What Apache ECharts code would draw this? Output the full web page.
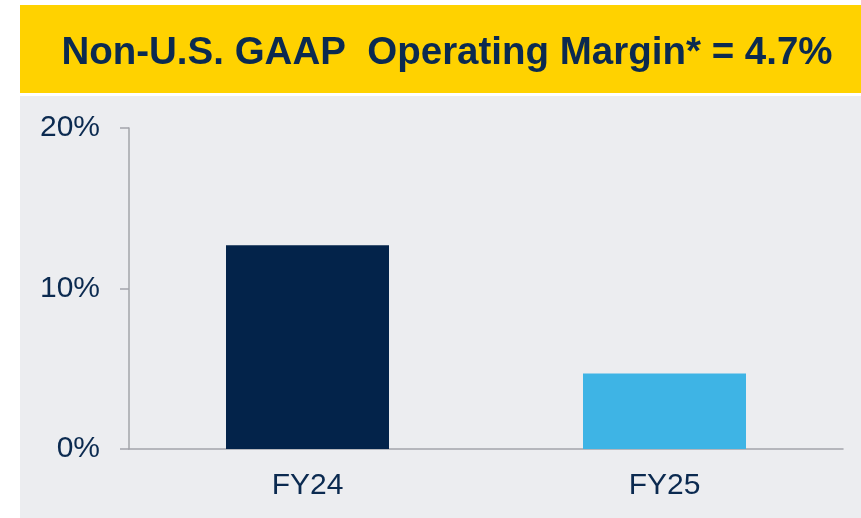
<!DOCTYPE html>
<html>
<head>
<meta charset="utf-8">
<script src="https://cdn.jsdelivr.net/npm/echarts@6/dist/echarts.min.js"></script>
<style>
  html, body { margin: 0; padding: 0; background: #ffffff; }
  #chart { width: 861px; height: 518px; }
</style>
</head>
<body>
<div id="chart"></div>
<script>
const categories = ['FY24', 'FY25'];
const margins = [12.7, 4.7];
const barColors = ['#03234A', '#3EB4E5'];
const titleText = 'Non-U.S. GAAP  Operating Margin* = 4.7%';

const navy = '#0B2A50';
const chart = echarts.init(document.getElementById('chart'));

chart.setOption({
  animation: false,
  backgroundColor: '#ffffff',
  textStyle: { fontFamily: 'Liberation Sans, Arial, sans-serif' },
  graphic: [
    // yellow header band
    { type: 'rect', z: -10, shape: { x: 20, y: 5, width: 841, height: 88 }, style: { fill: '#FFD200' } },
    // light gray panel
    { type: 'rect', z: -10, shape: { x: 20, y: 96, width: 841, height: 422 }, style: { fill: '#ECEDF0' } }
  ],
  title: {
    text: titleText,
    left: 442,
    top: 29,
    textAlign: 'center',
    textStyle: {
      color: navy,
      fontSize: 38.5,
      fontWeight: 'bold',
      fontFamily: 'Liberation Sans, Arial, sans-serif'
    }
  },
  grid: { left: 129, right: 18, top: 128, bottom: 69 },
  xAxis: {
    type: 'category',
    data: categories,
    axisLine: { show: true, lineStyle: { color: '#A3A4AA', width: 1.5 } },
    axisTick: { show: false },
    axisLabel: { color: navy, fontSize: 30, margin: 22 }
  },
  yAxis: {
    type: 'value',
    min: 0,
    max: 20,
    interval: 10,
    axisLine: { show: true, lineStyle: { color: '#A3A4AA', width: 1.5 } },
    axisTick: { show: true, length: 9, lineStyle: { color: '#A3A4AA', width: 1.5 } },
    splitLine: { show: false },
    axisLabel: { color: navy, fontSize: 30, margin: 29, formatter: '{value}%' }
  },
  series: [
    {
      type: 'bar',
      data: margins.map((v, i) => ({ value: v, itemStyle: { color: barColors[i] } })),
      barWidth: 163
    }
  ]
});
</script>
</body>
</html>
